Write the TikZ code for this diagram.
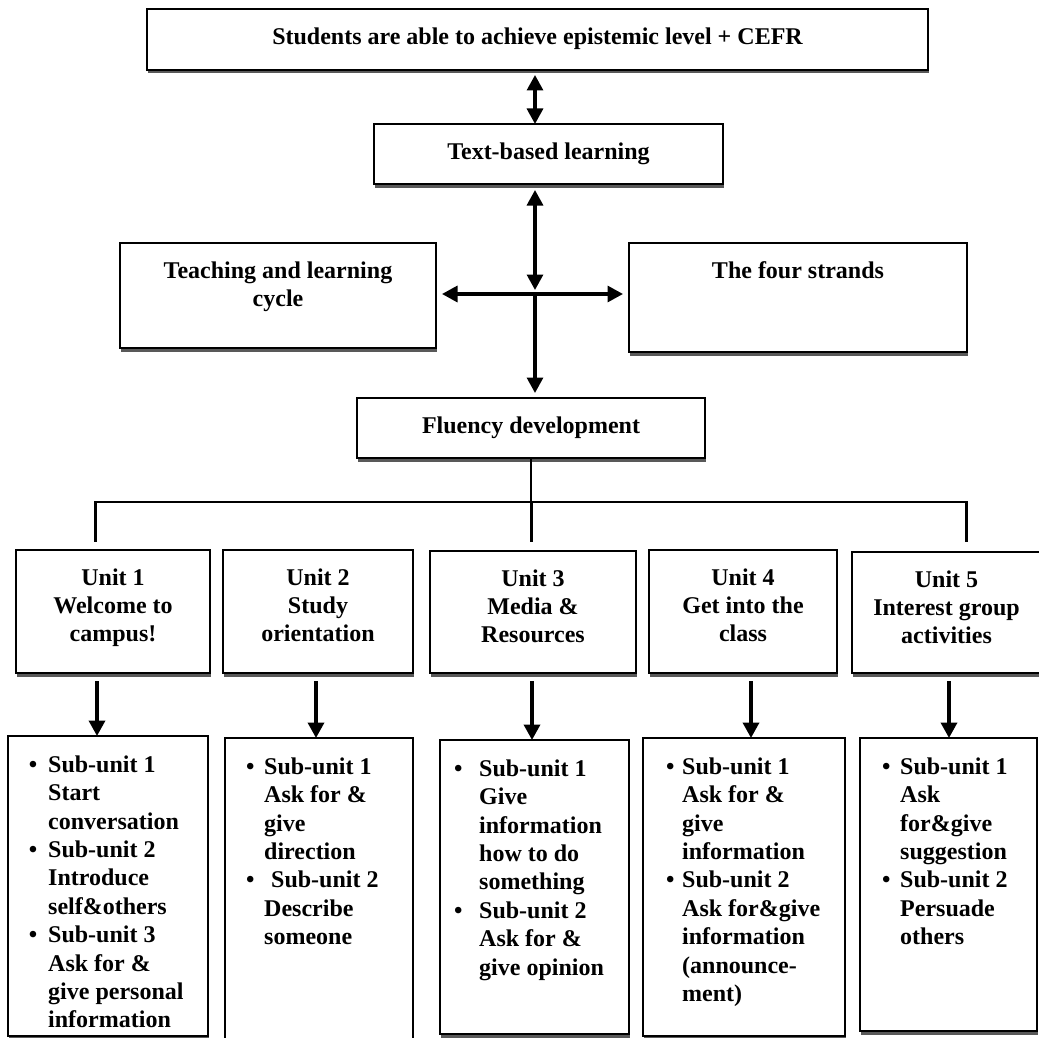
\documentclass[tikz,border=0pt]{standalone}
\usepackage{fontspec}
\setmainfont{Liberation Serif}
\usetikzlibrary{arrows.meta,shadows}
\begin{document}
\begin{tikzpicture}[x=1pt,y=-1pt,
  >={Triangle[length=15.5pt,width=16pt]},
  box/.style={draw, line width=1.4pt, fill=white, inner sep=0pt, outer sep=0pt,
     drop shadow={shadow xshift=1pt, shadow yshift=-3.5pt, fill=black!65, opacity=1}},
  lbl/.style={anchor=north, inner sep=0pt, align=center,
     font=\fontsize{24}{28.3}\selectfont\bfseries},
  sub/.style={anchor=north west, inner sep=0pt, align=left,
     font=\fontsize{24}{28.4}\selectfont\bfseries},
  conn/.style={line width=3.2pt},
  uarr/.style={line width=3.6pt, shorten <=8pt},
  bus/.style={line width=2.6pt},
]
\useasboundingbox (0,0) rectangle (1039,1038);

% ---------- upper boxes ----------
\node[box, minimum width=781pt, minimum height=61pt] (top) at (537.5,39.5) {};
\node[lbl] (topt) at ([yshift=-18.5pt]top.north) {Students are able to achieve epistemic level + CEFR};

\node[box, minimum width=349pt, minimum height=60pt] (tbl) at (548.5,154) {};
\node[lbl] (tblt) at ([yshift=-18.5pt]tbl.north) {Text-based learning};

\node[box, minimum width=316pt, minimum height=105pt] (teach) at (278,295.5) {};
\node[lbl] (teacht) at ([yshift=-18.5pt]teach.north) {Teaching and learning\\cycle};

\node[box, minimum width=338pt, minimum height=109pt] (strands) at (798,297.5) {};
\node[lbl] (strandst) at ([yshift=-18.5pt]strands.north) {The four strands};

\node[box, minimum width=348pt, minimum height=60pt] (fl) at (531,428) {};
\node[lbl] (flt) at ([yshift=-18.5pt]fl.north) {Fluency development};

% ---------- cross of arrows ----------
\coordinate (X) at (535,294);
\draw[conn,<->, shorten <=5pt] (top.south -| X) -- (tbl.north -| X);
\draw[conn,<->, shorten <=6pt, shorten >=4pt] (tbl.south -| X) -- (X);
\draw[conn,<->, shorten <=6pt, shorten >=6pt] (teach.east |- X) -- (strands.west |- X);
\draw[conn,->, shorten >=5pt] (X) -- (fl.north -| X);

% ---------- bus ----------
\coordinate (busL) at (95.5,502);
\coordinate (busR) at (966.5,502);
\coordinate (dL) at (95.5,542);
\coordinate (dC) at (531.5,542);
\coordinate (dR) at (966.5,542);
\draw[bus] (fl.south) -- (fl.south |- busL);
\draw[bus, line cap=rect] (busL) -- (busR);
\draw[bus] (busL) -- (dL);
\draw[bus] (dC |- busL) -- (dC);
\draw[bus] (busR) -- (dR);

% ---------- unit boxes ----------
\node[box, minimum width=194pt, minimum height=123pt] (u1) at (113,611.5) {};
\node[lbl] (u1t) at ([yshift=-18.5pt]u1.north) {Unit 1\\Welcome to\\campus!};
\node[box, minimum width=190pt, minimum height=123pt] (u2) at (318,611.5) {};
\node[lbl] (u2t) at ([yshift=-18.5pt]u2.north) {Unit 2\\Study\\orientation};
\node[box, minimum width=206pt, minimum height=122pt] (u3) at (533,612) {};
\node[lbl] (u3t) at ([yshift=-18.5pt]u3.north) {Unit 3\\Media \&\\Resources};
\node[box, minimum width=188pt, minimum height=123pt] (u4) at (743,611.5) {};
\node[lbl] (u4t) at ([yshift=-18.5pt]u4.north) {Unit 4\\Get into the\\class};
\node[box, minimum width=189pt, minimum height=121pt] (u5) at (946.5,612.5) {};
\node[lbl] (u5t) at ([yshift=-18.5pt]u5.north) {Unit 5\\Interest group\\activities};

% ---------- sub-unit boxes ----------
\node[box, minimum width=200pt, minimum height=300pt] (s1) at (108,886) {};
\node[box, minimum width=188pt, minimum height=312pt] (s2) at (319,894) {};
\node[box, minimum width=189pt, minimum height=294pt] (s3) at (534.5,887) {};
\node[box, minimum width=202pt, minimum height=298pt] (s4) at (744,887) {};
\node[box, minimum width=177pt, minimum height=293pt] (s5) at (948.5,884.5) {};

\node[sub] (s1t) at (48,755.5) {%
\llap{\textbullet\hspace{10.8pt}}Sub-unit 1\\Start\\conversation\\
\llap{\textbullet\hspace{10.8pt}}Sub-unit 2\\Introduce\\self\&others\\
\llap{\textbullet\hspace{10.8pt}}Sub-unit 3\\Ask for \&\\give personal\\information};
\node[sub] (s2t) at (264,757.5) {%
\llap{\textbullet\hspace{9.8pt}}Sub-unit 1\\Ask for \&\\give\\direction\\
\llap{\textbullet\hspace{9.8pt}}\hspace{7pt}Sub-unit 2\\Describe\\someone};
\node[sub] (s3t) at (479,759.5) {%
\llap{\textbullet\hspace{16.8pt}}Sub-unit 1\\Give\\information\\how to do\\something\\
\llap{\textbullet\hspace{16.8pt}}Sub-unit 2\\Ask for \&\\give opinion};
\node[sub] (s4t) at (682,757.5) {%
\llap{\textbullet\hspace{7.8pt}}Sub-unit 1\\Ask for \&\\give\\information\\
\llap{\textbullet\hspace{7.8pt}}Sub-unit 2\\Ask for\&give\\information\\(announce-\\ment)};
\node[sub] (s5t) at (900,757.5) {%
\llap{\textbullet\hspace{9.8pt}}Sub-unit 1\\Ask\\for\&give\\suggestion\\
\llap{\textbullet\hspace{9.8pt}}Sub-unit 2\\Persuade\\others};

% ---------- unit arrows ----------
\draw[uarr,->] ([xshift=-16pt]u1.south) -- ([xshift=-16pt]u1.south |- s1.north);
\draw[uarr,->] ([xshift=-2pt]u2.south) -- ([xshift=-2pt]u2.south |- s2.north);
\draw[uarr,->] ([xshift=-1pt]u3.south) -- ([xshift=-1pt]u3.south |- s3.north);
\draw[uarr,->] ([xshift=8pt]u4.south) -- ([xshift=8pt]u4.south |- s4.north);
\draw[uarr,->] ([xshift=2.5pt]u5.south) -- ([xshift=2.5pt]u5.south |- s5.north);
\end{tikzpicture}
\end{document}
